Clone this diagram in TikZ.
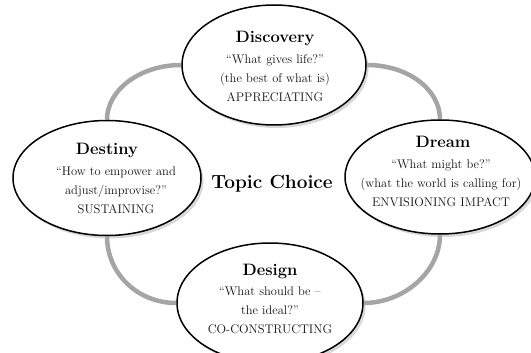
\documentclass[tikz,border=0pt]{standalone}
\usetikzlibrary{shapes.geometric,shadows,backgrounds}
\definecolor{ringgray}{RGB}{165,165,165}
\definecolor{inkgray}{RGB}{20,20,20}
\begin{document}
\begin{tikzpicture}[x=1pt,y=-1pt,
  ring/.style={draw=ringgray, line width=4.5pt},
  bubble/.style={ellipse, draw=black, line width=1.5pt, fill=white, inner sep=0pt,
    drop shadow={shadow xshift=2.5pt, shadow yshift=-3pt, fill=black!30}},
  title/.style={font=\fontsize{16.5}{19}\selectfont\bfseries, anchor=base, inner sep=0pt},
  body/.style={font=\fontsize{12.5}{19}\selectfont, align=center, inner sep=0pt, text=inkgray}
]
\useasboundingbox (0,0) rectangle (531,353);

% the four phases as ellipses
\node[bubble, minimum width=184pt, minimum height=120pt] (disc)   at (274,65)  {};
\node[bubble, minimum width=188pt, minimum height=115pt] (dest)   at (107,178) {};
\node[bubble, minimum width=190pt, minimum height=114pt] (dream)  at (440,177) {};
\node[bubble, minimum width=186pt, minimum height=120pt] (design) at (270,303) {};

% the cycle ring linking the phases, drawn behind the ellipses
\begin{scope}[on background layer]
  \draw[ring] (dest.north)  .. controls +(0,-30) and +(-41,0) .. (disc.west);
  \draw[ring] (disc.east)   .. controls +(41,0)  and +(0,-30) .. (dream.north);
  \draw[ring] (dream.south) .. controls +(0,37)  and +(40,0)  .. (design.east);
  \draw[ring] (design.west) .. controls +(-39,0) and +(0,37)  .. (dest.south);
\end{scope}

% texts
\node[title] (discT) at (275,43) {Discovery};
\node[body]  (discB) at (275,78) {“What gives life?”\\(the best of what is)\\APPRECIATING};

\node[title] (destT) at (107,155) {Destiny};
\node[body]  (destB) at (116,190) {“How to empower and\\adjust/improvise?”\\SUSTAINING};

\node[title] (dreamT) at (443,147) {Dream};
\node[body]  (dreamB) at (441,183) {“What might be?”\\(what the world is calling for)\\ENVISIONING IMPACT};

\node[title] (desT) at (270,275) {Design};
\node[body]  (desB) at (270,310) {“What should be --\\the ideal?”\\CO-CONSTRUCTING};

\node[font=\fontsize{19}{22}\selectfont\bfseries, anchor=base, inner sep=0pt] (topic) at (272,188) {Topic Choice};
\end{tikzpicture}
\end{document}
